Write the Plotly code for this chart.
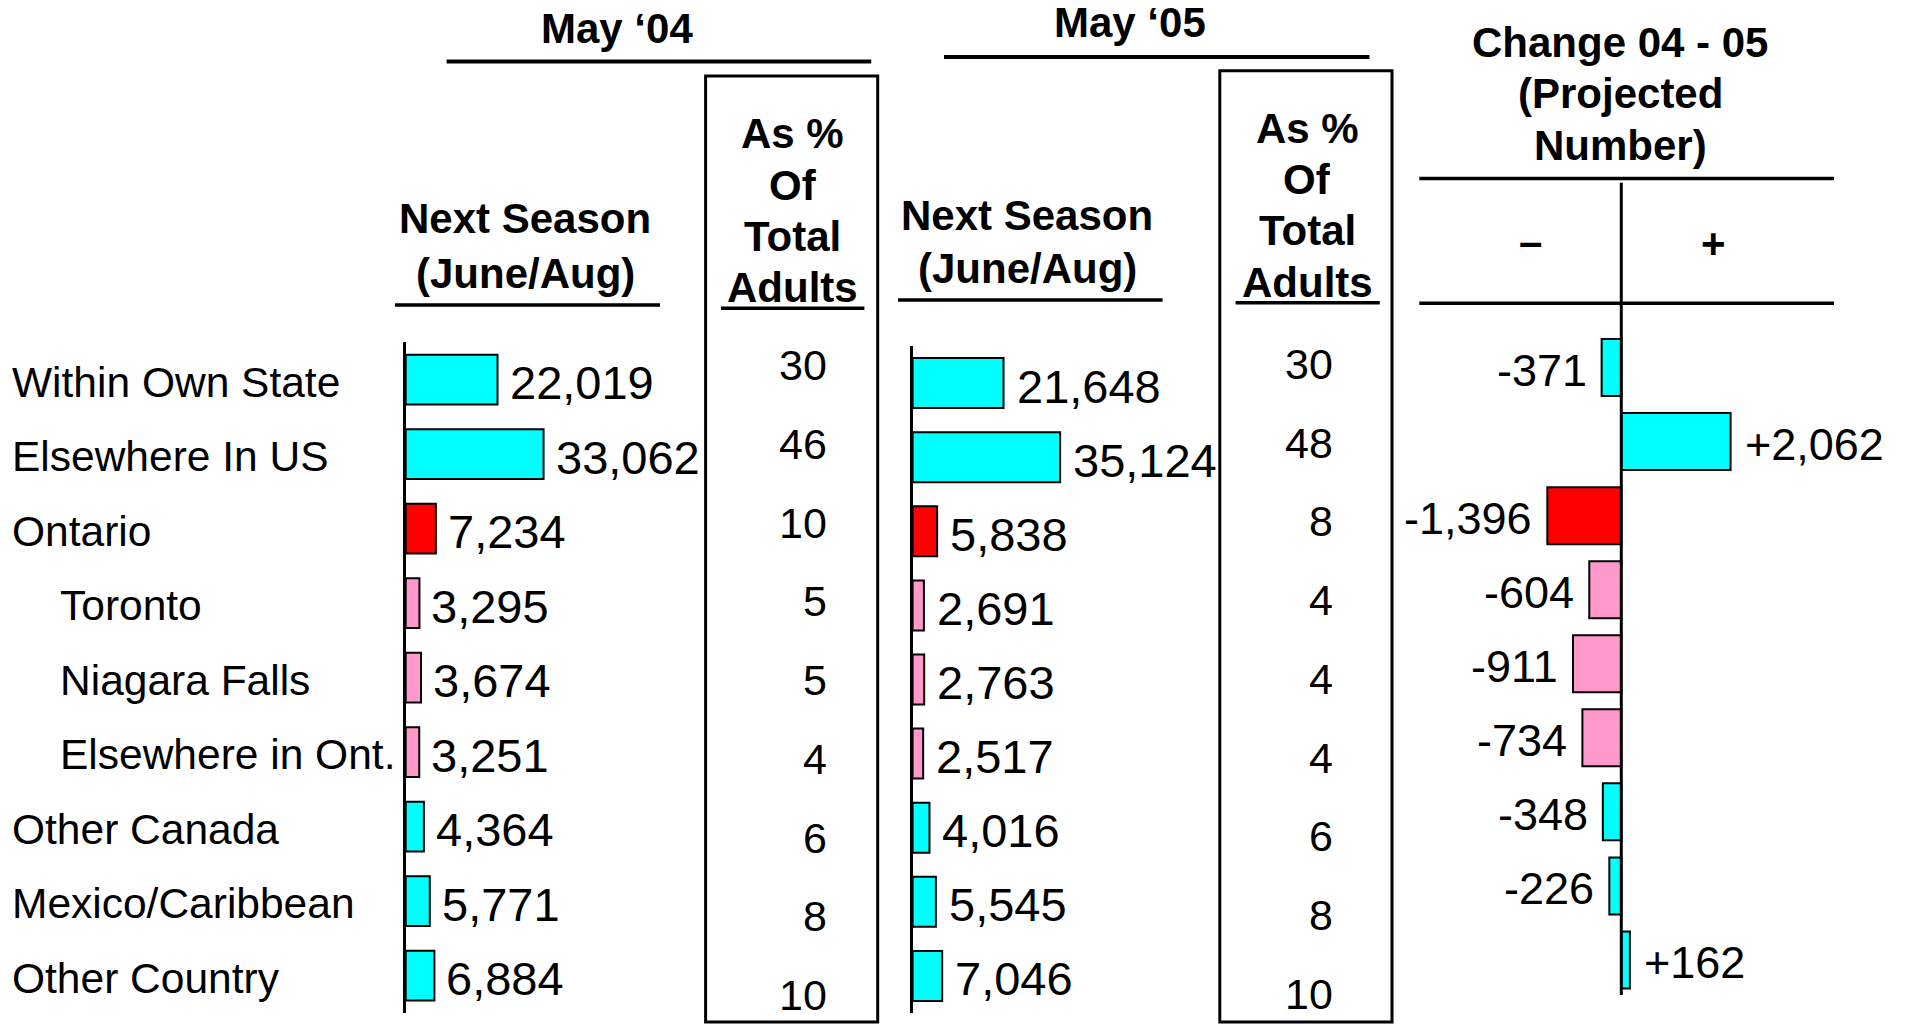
import plotly.graph_objects as go

# ---------------- data ----------------
categories = ["Within Own State", "Elsewhere In US", "Ontario", "Toronto", "Niagara Falls",
              "Elsewhere in Ont.", "Other Canada", "Mexico/Caribbean", "Other Country"]
indented = [False, False, False, True, True, True, False, False, False]
groups = ["other", "other", "ontario", "ont_sub", "ont_sub", "ont_sub", "other", "other", "other"]
may04 = [22019, 33062, 7234, 3295, 3674, 3251, 4364, 5771, 6884]
pct04 = [30, 46, 10, 5, 5, 4, 6, 8, 10]
may05 = [21648, 35124, 5838, 2691, 2763, 2517, 4016, 5545, 7046]
pct05 = [30, 48, 8, 4, 4, 4, 6, 8, 10]
change = [-371, 2062, -1396, -604, -911, -734, -348, -226, 162]

# ---------------- styling ----------------
W, H = 1908, 1024
FONT = "Liberation Sans, Arial, Helvetica, sans-serif"
group_colors = {"other": "#00FFFF", "ontario": "#FF0000", "ont_sub": "#FF99CC"}
bar_colors = [group_colors[g] for g in groups]


def px(x):
    return x / W


def py(y):
    return 1 - y / H


fig = go.Figure()

fig.add_trace(go.Bar(y=categories, x=may04, orientation="h", xaxis="x", yaxis="y",
                     marker=dict(color=bar_colors, line=dict(color="black", width=2)),
                     width=0.67, showlegend=False, hoverinfo="x+y"))
fig.add_trace(go.Bar(y=categories, x=may05, orientation="h", xaxis="x2", yaxis="y2",
                     marker=dict(color=bar_colors, line=dict(color="black", width=2)),
                     width=0.675, showlegend=False, hoverinfo="x+y"))
fig.add_trace(go.Bar(y=categories, x=change, orientation="h", xaxis="x3", yaxis="y3",
                     marker=dict(color=bar_colors, line=dict(color="black", width=2)),
                     width=0.77, showlegend=False, hoverinfo="x+y"))
fig.add_trace(go.Scatter(x=[], y=[], xaxis="x4", yaxis="y4", showlegend=False))

hidden_x = dict(visible=False, showgrid=False, zeroline=False, fixedrange=True)
cat_y = dict(type="category", categoryorder="array", categoryarray=categories,
             range=[8.5, -0.5], showgrid=False, zeroline=False, showticklabels=False,
             ticks="", fixedrange=True)

annotations = []
shapes = []

# row labels
for i, cat in enumerate(categories):
    annotations.append(dict(text=cat, xref="paper", yref="y", x=px(57.5 if indented[i] else 10),
                            y=cat, xanchor="left", yanchor="middle", yshift=-2.5, showarrow=False,
                            font=dict(size=42.5, color="black", family=FONT)))

# value labels panel 1 & 2
for i, cat in enumerate(categories):
    annotations.append(dict(text=f"{may04[i]:,}", xref="x", yref="y", x=may04[i], y=cat,
                            xanchor="left", yanchor="middle", xshift=10, yshift=-3,
                            showarrow=False, font=dict(size=47, color="black", family=FONT)))
    annotations.append(dict(text=f"{may05[i]:,}", xref="x2", yref="y2", x=may05[i], y=cat,
                            xanchor="left", yanchor="middle", xshift=11, yshift=-3,
                            showarrow=False, font=dict(size=47, color="black", family=FONT)))
    neg = change[i] < 0
    annotations.append(dict(text=f"{change[i]:+,}", xref="x3", yref="y3", x=change[i], y=cat,
                            xanchor="right" if neg else "left", yanchor="middle",
                            xshift=-13 if neg else 12, yshift=-3,
                            showarrow=False, font=dict(size=45, color="black", family=FONT)))

# percent columns
for i in range(len(categories)):
    annotations.append(dict(text=str(pct04[i]), xref="paper", yref="y4", x=px(829), y=i,
                            xanchor="right", yanchor="middle", showarrow=False,
                            font=dict(size=43, color="black", family=FONT)))
    annotations.append(dict(text=str(pct05[i]), xref="paper", yref="y4", x=px(1335), y=i - 0.015,
                            xanchor="right", yanchor="middle", showarrow=False,
                            font=dict(size=43, color="black", family=FONT)))

# headers
headers = [
    ("May \u201804", 617, 28),
    ("May \u201805", 1130, 22),
    ("Change 04 - 05", 1620, 42),
    ("(Projected", 1620, 93),
    ("Number)", 1620, 145),
    ("\u2013", 1530, 241),
    ("+", 1713, 243),
    ("Next Season", 525, 218),
    ("(June/Aug)", 525, 273),
    ("Next Season", 1027, 215),
    ("(June/Aug)", 1027, 268),
    ("As %", 792.5, 133),
    ("Of", 792.5, 185),
    ("Total", 792.5, 236),
    ("Adults", 792.5, 287),
    ("As %", 1307, 128.5),
    ("Of", 1307, 179),
    ("Total", 1307, 230),
    ("Adults", 1307, 282),
]
for txt, x, y in headers:
    annotations.append(dict(text=f"<b>{txt}</b>", xref="paper", yref="paper", x=px(x), y=py(y),
                            xanchor="center", yanchor="middle", showarrow=False,
                            font=dict(size=42, color="black", family=FONT)))


def hline(x0, x1, y, w):
    shapes.append(dict(type="line", xref="paper", yref="paper", x0=px(x0), x1=px(x1),
                       y0=py(y), y1=py(y), line=dict(color="black", width=w)))


hline(446.6, 871.2, 61.5, 4)      # May '04
hline(944, 1369.5, 57, 4)         # May '05
hline(1419.3, 1834, 178.5, 3.5)   # Change top
hline(1419.3, 1834, 303.3, 3.5)   # Change bottom
hline(395, 660, 305, 3.5)         # Next Season col 1
hline(898, 1162.6, 300, 3.5)      # Next Season col 2
hline(721, 864.4, 308.3, 3.5)     # Adults col 1
hline(1235.6, 1379.8, 302.7, 3.5) # Adults col 2

for x0, x1, y0, y1 in [(705.6, 877.7, 76, 1022), (1219.8, 1392, 70.7, 1022)]:
    shapes.append(dict(type="rect", xref="paper", yref="paper", x0=px(x0), x1=px(x1),
                       y0=py(y1), y1=py(y0), line=dict(color="black", width=3)))

# zero line of the change panel
shapes.append(dict(type="line", xref="x3", yref="paper", x0=0, x1=0, y0=py(995), y1=py(182.7),
                   line=dict(color="black", width=3)))

fig.update_layout(
    width=W, height=H, autosize=False,
    margin=dict(l=0, r=0, t=0, b=0, pad=0),
    paper_bgcolor="white", plot_bgcolor="rgba(0,0,0,0)",
    font=dict(family=FONT, color="black"),
    showlegend=False,
    xaxis=dict(domain=[px(405.7), px(405.7 + 166.8)], range=[0, 40000], anchor="y", **hidden_x),
    yaxis=dict(domain=[py(1012.9), py(342.35)], anchor="x", showline=True, linecolor="black",
               linewidth=2.5, **cat_y),
    xaxis2=dict(domain=[px(912.6), px(912.6 + 168)], range=[0, 40000], anchor="y2", **hidden_x),
    yaxis2=dict(domain=[py(1013), py(346)], anchor="x2", showline=True, linecolor="black",
                linewidth=2.5, **cat_y),
    xaxis3=dict(domain=[px(1515.3), px(1753.8)], range=[-2000, 2500], anchor="y3", **hidden_x),
    yaxis3=dict(domain=[py(997), py(330.5)], anchor="x3", showline=False, **cat_y),
    xaxis4=dict(domain=[0, 1], range=[0, 1], anchor="y4", **hidden_x),
    yaxis4=dict(domain=[0, py(325)], range=[8.368, -0.508], anchor="x4", visible=False,
                showgrid=False, zeroline=False, fixedrange=True),
    annotations=annotations,
    shapes=shapes,
)

fig.write_html("out.html", config={"displayModeBar": False},
               post_script="document.body.style.margin='0px';document.body.style.overflow='hidden';")
